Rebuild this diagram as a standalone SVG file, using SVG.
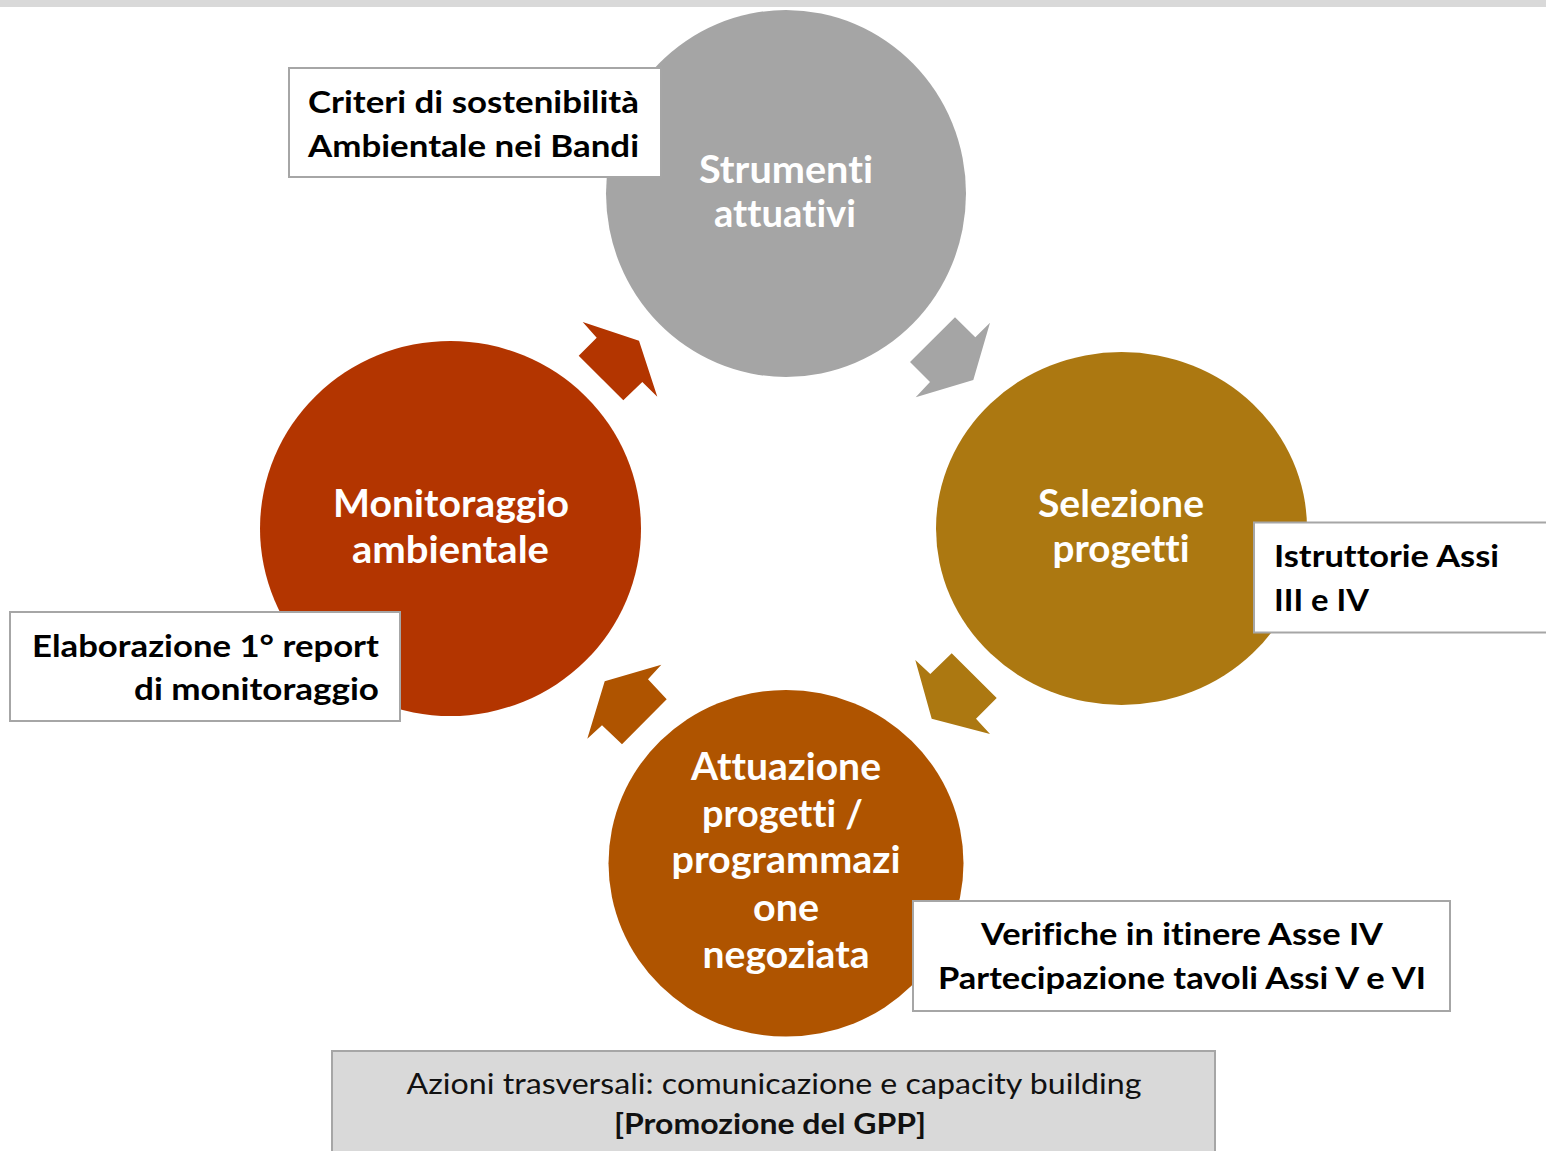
<svg xmlns="http://www.w3.org/2000/svg" width="1546" height="1151" viewBox="0 0 1546 1151">
<style>
text{font-variant-ligatures:none;font-feature-settings:"liga" 0,"clig" 0}
.lbl{font-family:Lato,"Open Sans","Liberation Sans",sans-serif;font-weight:700;fill:#ffffff;font-size:38px;text-anchor:middle}
.note{font-family:Lato,"Open Sans","Liberation Sans",sans-serif;font-weight:700;fill:#000000;font-size:31px}
.box{fill:#ffffff;stroke:#a6a6a6;stroke-width:2}
.foot{font-family:Lato,"Open Sans","Liberation Sans",sans-serif;fill:#111111;font-size:28px;text-anchor:middle}
</style>
<rect x="0" y="0" width="1546" height="1151" fill="#ffffff"/>
<rect x="0" y="0" width="1546" height="7" fill="#d9d9d9"/>

<g id="connectors">
<polygon points="582.7,322 639,340.7 657.3,396.7 642.3,382 623.3,400.3 578.7,355.7 596.7,337.7" fill="#b33500"/>
<polygon points="955,317.3 975.3,337.3 990,322.7 973.3,380 915.7,397.3 930,382 910,362" fill="#a5a5a5"/>
<polygon points="951.7,653.3 996.7,698 976,718.7 990,734 931.7,718.7 915.3,660 930.3,674" fill="#ac7811"/>
<polygon points="661.3,664.7 648,679.3 666.7,699.3 622,744.3 602,725.3 587.3,738.7 604.7,681.3" fill="#af5400"/>
</g>

<g id="strumenti">
<ellipse cx="786" cy="193.5" rx="180" ry="183.5" fill="#a5a5a5"/>
<text class="lbl" x="786" y="183" textLength="174" lengthAdjust="spacingAndGlyphs">Strumenti</text>
<text class="lbl" x="785" y="227" textLength="142" lengthAdjust="spacingAndGlyphs">attuativi</text>
</g>

<g id="selezione">
<ellipse cx="1121.5" cy="528.5" rx="185.5" ry="176.5" fill="#ac7811"/>
<text class="lbl" x="1121" y="517" textLength="166" lengthAdjust="spacingAndGlyphs">Selezione</text>
<text class="lbl" x="1121" y="562" textLength="137" lengthAdjust="spacingAndGlyphs">progetti</text>
</g>

<g id="attuazione">
<ellipse cx="786" cy="863.3" rx="177.5" ry="173.3" fill="#af5400"/>
<text class="lbl" x="786" y="780" textLength="190" lengthAdjust="spacingAndGlyphs">Attuazione</text>
<text class="lbl" x="782.5" y="827" textLength="161" lengthAdjust="spacingAndGlyphs">progetti /</text>
<text class="lbl" x="786" y="873" textLength="229" lengthAdjust="spacingAndGlyphs">programmazi</text>
<text class="lbl" x="786" y="921" textLength="66" lengthAdjust="spacingAndGlyphs">one</text>
<text class="lbl" x="786" y="968" textLength="167" lengthAdjust="spacingAndGlyphs">negoziata</text>
</g>

<g id="monitoraggio">
<ellipse cx="450.5" cy="528.5" rx="190.5" ry="187.5" fill="#b33500"/>
<text class="lbl" x="451" y="517" textLength="236" lengthAdjust="spacingAndGlyphs">Monitoraggio</text>
<text class="lbl" x="450.5" y="563" textLength="197" lengthAdjust="spacingAndGlyphs">ambientale</text>
</g>

<g id="note-criteri">
<rect class="box" x="289" y="68" width="372" height="109"/>
<text class="note" x="308" y="113" textLength="331" lengthAdjust="spacingAndGlyphs">Criteri di sostenibilità</text>
<text class="note" x="308" y="157" textLength="331" lengthAdjust="spacingAndGlyphs">Ambientale nei Bandi</text>
</g>

<g id="note-istruttorie">
<rect class="box" x="1254" y="522.5" width="300" height="110"/>
<text class="note" x="1274" y="567" textLength="225" lengthAdjust="spacingAndGlyphs">Istruttorie Assi</text>
<text class="note" x="1274" y="611" textLength="95" lengthAdjust="spacingAndGlyphs">III e IV</text>
</g>

<g id="note-elaborazione">
<rect class="box" x="10" y="612" width="390" height="109"/>
<text class="note" x="379" y="657" text-anchor="end" textLength="347" lengthAdjust="spacingAndGlyphs">Elaborazione 1° report</text>
<text class="note" x="379" y="700" text-anchor="end" textLength="245" lengthAdjust="spacingAndGlyphs">di monitoraggio</text>
</g>

<g id="note-verifiche">
<rect class="box" x="913" y="901" width="537" height="110"/>
<text class="note" x="1182" y="945" text-anchor="middle" textLength="402" lengthAdjust="spacingAndGlyphs">Verifiche in itinere Asse IV</text>
<text class="note" x="1182" y="989" text-anchor="middle" textLength="488" lengthAdjust="spacingAndGlyphs">Partecipazione tavoli Assi V e VI</text>
</g>

<g id="azioni-trasversali">
<rect x="332" y="1051" width="883" height="110" fill="#d9d9d9" stroke="#a6a6a6" stroke-width="2"/>
<text class="foot" x="774" y="1094" textLength="735" lengthAdjust="spacingAndGlyphs">Azioni trasversali: comunicazione e capacity building</text>
<text class="foot" x="770" y="1134" font-size="30" font-weight="700" textLength="312" lengthAdjust="spacingAndGlyphs">[Promozione del GPP]</text>
</g>
</svg>
